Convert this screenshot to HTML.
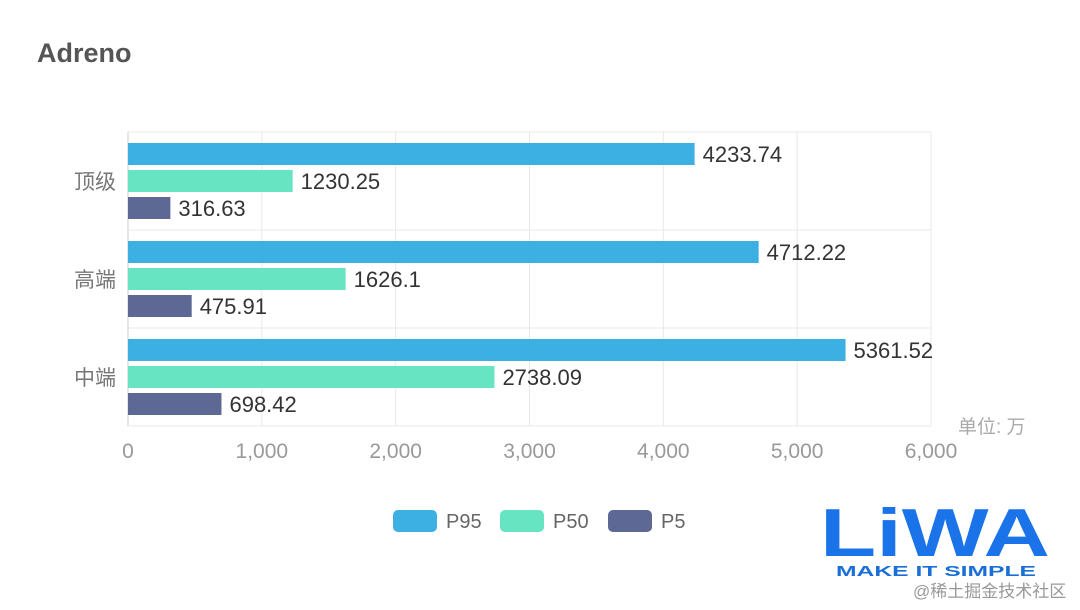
<!DOCTYPE html>
<html><head><meta charset="utf-8"><style>
body{margin:0;background:#fff;width:1080px;height:605px;overflow:hidden;font-family:"Liberation Sans","Noto Sans CJK SC",sans-serif}
</style></head><body>
<svg id="c" width="1080" height="605" xmlns="http://www.w3.org/2000/svg">
<text x="37" y="62" font-size="27" font-weight="bold" fill="#555">Adreno</text>
<g id="grid"></g><g id="bars"></g>
<text x="958" y="433" font-size="19" fill="#aaa">单位: 万</text>
<g>
<g><rect x="393" y="510" width="44" height="22" rx="5" fill="#3db0e3"/><text x="446" y="528" font-size="20" fill="#666">P95</text></g>
<g><rect x="500" y="510" width="44" height="22" rx="5" fill="#67e5c2"/><text x="553" y="528" font-size="20" fill="#666">P50</text></g>
<g><rect x="608" y="510" width="44" height="22" rx="5" fill="#5d6894"/><text x="661" y="528" font-size="20" fill="#666">P5</text></g>
</g>
<g>
<text x="820" y="556" font-size="68" font-weight="bold" fill="#1a73e8" textLength="230" lengthAdjust="spacingAndGlyphs">LiWA</text>
<text x="836" y="576" font-size="15" font-weight="bold" fill="#1a6fd6" textLength="200" lengthAdjust="spacingAndGlyphs">MAKE IT SIMPLE</text>
<text x="913" y="597" font-size="17" fill="#999">@稀土掘金技术社区</text>
</g>
</svg>
<script>
const categories=["顶级","高端","中端"];
const p95=[4233.74,4712.22,5361.52];
const p50=[1230.25,1626.1,2738.09];
const p5=[316.63,475.91,698.42];
const ticks=[0,1000,2000,3000,4000,5000,6000];
const tickLabels=["0","1,000","2,000","3,000","4,000","5,000","6,000"];
const NS="http://www.w3.org/2000/svg";
const x0=128,x1=931,yTop=132,band=98;
const xs=v=>x0+v/6000*(x1-x0);
function mk(t,a,p){const e=document.createElementNS(NS,t);for(const k in a)e.setAttribute(k,a[k]);p.appendChild(e);return e;}
const g=document.getElementById('grid'),b=document.getElementById('bars');
ticks.forEach((t,i)=>{
 const l=mk('line',{x1:xs(t),x2:xs(t),y1:yTop,y2:yTop+3*band,stroke:i==0?'#ccc':'#e8e8e8'},g);
 
 
 const tx=mk('text',{x:xs(t),y:458,'font-size':21,fill:'#999','text-anchor':'middle'},g);
 tx.textContent=tickLabels[i];
 
 
});
for(let i=0;i<=3;i++){
 const l=mk('line',{x1:x0,x2:x1,y1:yTop+i*band,y2:yTop+i*band,stroke:'#e8e8e8'},g);
 
 
}
const series=[[p95,'#3db0e3','p95'],[p50,'#67e5c2','p50'],[p5,'#5d6894','p5']];
categories.forEach((c,ci)=>{
 const by=yTop+ci*band;
 const ct=mk('text',{x:116,y:by+band/2+8,'font-size':21,fill:'#777','text-anchor':'end'},b);
 ct.textContent=c;
 
 
 series.forEach(([arr,col,nm],si)=>{
  const y=by+11+si*27,v=arr[ci];
  const r=mk('rect',{x:x0,y:y,width:xs(v)-x0,height:22,fill:col},b);
  
  
  const t=mk('text',{x:xs(v)+8,y:y+19,'font-size':22,fill:'#333'},b);
  t.textContent=String(v);
  
  
 });
});
</script>
</body></html>
